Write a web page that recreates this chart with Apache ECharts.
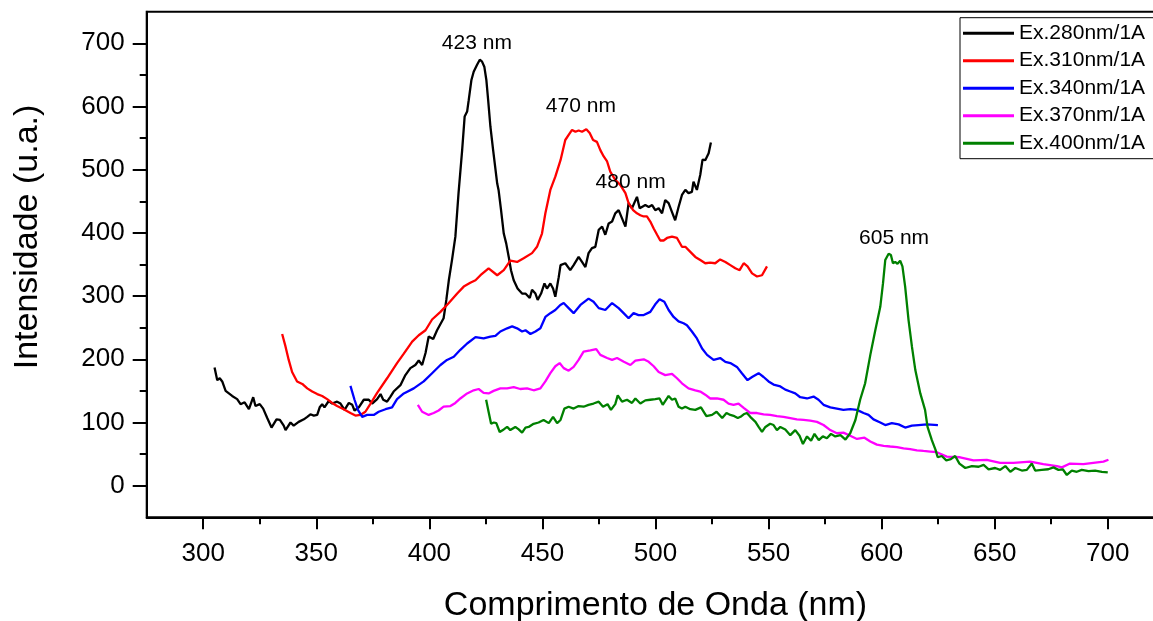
<!DOCTYPE html>
<html>
<head>
<meta charset="utf-8">
<script src="https://cdn.jsdelivr.net/npm/echarts@6/dist/echarts.min.js"></script>
<style>
html,body{margin:0;padding:0;background:#fff;overflow:hidden;width:1153px;height:621px;}
#chart{width:1166px;height:621px;}
</style>
</head>
<body>
<div id="chart"></div>
<script>
// ---- data (wavelength nm, intensity a.u.) ----
const seriesNames = ['Ex.280nm/1A','Ex.310nm/1A','Ex.340nm/1A','Ex.370nm/1A','Ex.400nm/1A'];
const xMajorTicks = [300,350,400,450,500,550,600,650,700];
const xMinorTicks = [325,375,425,475,525,575,625,675];
const yMajorTicks = [0,100,200,300,400,500,600,700];
const yMinorTicks = [50,150,250,350,450,550,650];

const ex280 = [[305,187],[306.2,167],[307.3,170],[308.4,165],[309.9,150],[312.8,142],[315,137],[316.5,129],[318.3,132],[320.2,121],[322.1,140],[323.1,126],[325,129],[326.5,122],[328.3,107],[330.2,92],[332.4,105],[333.9,104],[335.6,95],[336.4,88],[338.6,100],[340,95],[342.2,101],[344.5,105],[346,109],[347.4,113],[348.9,111],[350.4,112],[351.5,124],[352.6,129],[353.6,124],[355.5,134],[357,130],[359.2,133],[360.7,130],[362.5,120],[364.4,131],[365.9,128],[366.9,119],[368.8,124],[371,136],[373.2,136],[374.7,130],[376.9,137],[378.4,145],[379.6,136],[381.3,133],[382.8,141],[384.2,149],[387.2,159],[389.4,175],[391.6,186],[393.8,191],[395.3,198],[396.8,191],[398.3,210],[399.7,236],[401.7,232],[403.4,246],[406.3,265],[407.5,294],[408.6,325],[410,357],[411.5,394],[412.9,463],[414.5,531],[415.6,584],[416.7,592],[417.4,610],[418.6,642],[419.6,655],[421.1,666],[422.3,674],[423.3,671],[424.3,663],[425.2,642],[426,610],[427,568],[428.2,531],[430,478],[430.6,468],[431.7,436],[432.9,399],[434,383],[435.1,362],[436.1,341],[437.3,325],[439,312],[441,304],[442.5,304],[444.4,297],[445.4,310],[446.9,304],[447.9,294],[449.4,304],[450.9,320],[452,312],[453.5,320],[454.7,312],[455.7,299],[457.2,330],[458,349],[460.1,352],[462.3,341],[463.8,349],[466,362],[467.5,354],[469,346],[470.4,368],[471.9,376],[473.4,378],[474.9,405],[476.4,410],[477.8,397],[479.3,415],[480.8,418],[482.2,431],[483.7,436],[485.2,423],[486.7,410],[488.1,447],[489.6,439],[491.8,457],[493,439],[494,441],[495.5,444],[497,441],[498.5,444],[499.9,436],[501.4,439],[502.9,431],[504.3,452],[505.8,447],[507.3,433],[508.7,420],[510.2,441],[511.7,460],[513.2,468],[514.6,463],[516.1,465],[516.8,481],[518.3,468],[519.8,492],[520.8,516],[522,515],[523.5,526],[524.5,543]];

const ex310 = [[334.9,240],[336.4,220],[337.8,199],[339.3,180],[341.5,165],[343.8,161],[346,154],[348.2,149],[350.4,145],[352.6,142],[354.8,137],[357,131],[359.2,126],[362.1,121],[365.1,115],[367.3,111],[369.5,112],[371.7,117],[374,130],[376.9,147],[381.3,170],[385.7,194],[388.7,209],[392.4,228],[395.3,238],[398.3,246],[401.2,263],[404.9,275],[408.6,289],[412.3,304],[415.2,315],[418.1,321],[420.4,325],[422.6,333],[426.2,344],[430,333],[432.9,341],[435.8,356],[438.8,354],[441.7,360],[445.4,368],[447.6,378],[449.8,399],[451.3,431],[453.5,468],[455.7,489],[458,515],[460.1,547],[461.6,555],[463.1,563],[464.6,560],[466,562],[467.5,560],[469.4,564],[470.9,558],[472.4,547],[474.1,544],[475.6,531],[477.1,521],[478.6,513],[480,497],[482.2,484],[484.4,476],[486.7,463],[488.1,447],[490.1,436],[491.8,431],[493.3,428],[494.8,426],[496.2,426],[497.7,418],[499.2,407],[500.7,397],[502.1,388],[503.6,388],[505.1,392],[507.3,394],[509.5,392],[511.7,378],[513.2,378],[515.4,370],[517.6,362],[519.8,357],[522,352],[524.2,353],[526.4,352],[528.6,358],[530.9,354],[533.1,349],[535.3,344],[537.2,341],[539,352],[540.7,347],[542.7,336],[544.9,331],[547.1,333],[549.3,347]];

const ex340 = [[365.1,158],[366.9,136],[368.4,120],[370.3,109],[372.5,112],[375.4,112],[377.6,117],[380.6,121],[383.5,124],[385.7,137],[388.7,146],[393.1,154],[397.5,165],[401.2,178],[404.9,191],[407.8,199],[410.8,204],[413.7,215],[416.7,225],[420.4,235],[424,233],[427,236],[429.2,237],[431.4,244],[434.4,249],[436.6,252],[438.8,249],[441,244],[442.5,246],[444.7,240],[446.9,244],[449.1,249],[451.3,267],[453.5,273],[455.7,278],[457.9,286],[459.4,289],[461.6,281],[463.8,273],[466.8,286],[470.4,296],[472.6,291],[474.9,281],[477.8,278],[480.8,289],[483.7,281],[485.9,273],[488.1,265],[490.3,273],[492.5,270],[494.8,270],[497.7,275],[499.9,287],[501.8,295],[503.9,291],[505.8,278],[508,267],[510.2,260],[512.4,257],[513.9,254],[516.1,244],[518.3,233],[520.6,217],[522.8,207],[525.7,199],[528.6,202],[530.9,196],[533.1,194],[536,188],[538.2,178],[540.7,167],[542.7,172],[545.6,178],[547.8,172],[550,165],[552.2,160],[555.2,157],[557.4,152],[559.6,149],[561.8,146],[564,140],[567,138],[569.9,141],[572.1,136],[574.3,128],[577.3,124],[580.2,122],[583.1,120],[586.1,121],[589.1,120],[592,115],[594.2,112],[596.4,105],[599.4,100],[601.6,96],[604.5,99],[607.5,97],[610.4,92],[613.4,95],[616.3,96],[620,97],[624.9,96]];

const ex370 = [[394.9,128],[396.8,117],[399.7,112],[401.9,115],[404.1,119],[406.3,125],[409.3,126],[411.5,131],[413.7,138],[416.7,146],[419.6,151],[421.8,153],[424,147],[426.2,146],[428.4,150],[431.4,154],[434.4,154],[437.3,156],[440.2,153],[443.2,154],[446.1,151],[449.1,154],[451.3,165],[453.5,178],[455.7,189],[457.6,194],[459.4,186],[461.6,182],[463.8,188],[466,199],[468.2,212],[471.2,214],[473.8,216],[475.6,207],[478.6,202],[480.8,199],[483,202],[486,196],[488.9,191],[491.1,198],[494.8,200],[497,196],[499.2,189],[501.4,180],[504.3,175],[507.3,177],[509.5,170],[511.7,162],[514.6,154],[517.6,151],[519.8,149],[522,144],[524.2,138],[527.2,138],[530.1,136],[532.3,130],[534.5,128],[536.7,130],[539,123],[541.9,115],[544.9,115],[547.8,113],[550.7,112],[553.7,110],[556.6,109],[559.6,107],[562.5,105],[565.5,104],[568.4,103],[571.4,101],[574.3,96],[577.3,88],[580.2,83],[583.1,84],[586.1,79],[589.1,74],[592.4,76],[595,70],[597.9,65],[600.9,63],[603.8,62],[606.8,61],[609.7,59],[612.6,58],[615.6,56],[618.5,55],[621.5,54],[624.4,53],[628.8,46],[634.7,45],[640.6,40],[646.5,41],[652.4,36],[658.3,36],[665.7,38],[671.5,34],[677.5,31],[679.7,29],[683.3,35],[689.2,34],[693.6,36],[698.1,38],[700.3,41]];

const ex400 = [[425.1,136],[426.3,115],[427.3,98],[428.5,100],[429.6,99],[431.1,85],[432.9,89],[434.4,93],[435.8,88],[438,93],[439.5,89],[441,84],[442.5,92],[443.9,93],[446.1,98],[448.3,100],[450.5,104],[452.8,99],[454.7,109],[456.5,99],[458,104],[459.7,122],[461.6,125],[463.8,122],[466,126],[468.2,125],[470.4,128],[472.6,130],[474.9,133],[476.8,125],[478.8,129],[480.3,120],[482.2,129],[483.3,143],[485.2,133],[487.4,136],[489.6,131],[491.1,138],[493.3,130],[495.5,135],[497.7,136],[499.9,137],[501.8,138],[503.2,128],[505.8,142],[507.3,136],[508.7,138],[510.2,125],[511.7,122],[513.2,125],[515.4,121],[517.6,120],[520.1,124],[522.5,110],[525,112],[527,117],[528,113],[529.5,107],[531.4,115],[533.1,112],[534.9,110],[536.4,107],[537.6,109],[539,113],[540.4,115],[541.9,109],[544.2,101],[545.6,93],[547.1,85],[548.6,93],[550.7,98],[552.2,96],[553.7,88],[555.2,93],[557.4,89],[559.6,80],[561.8,88],[563.7,79],[565.2,66],[567,78],[568.8,71],[570.3,82],[572.2,72],[574,78],[575.8,75],[577.6,82],[579.5,78],[581.8,80],[584,73],[586.1,83],[588.4,104],[590.5,136],[592.7,162],[595,207],[597.2,246],[599.4,283],[600.6,320],[601.6,357],[603.1,367],[604.1,365],[605,352],[606,354],[607,351],[608.2,356],[609.2,347],[610.4,315],[611.9,262],[613.4,220],[614.9,183],[617.1,146],[619.2,120],[620.3,93],[622.2,72],[623.8,57],[624.8,45],[626.6,47],[628.6,40],[630.6,42],[632.5,47],[634.4,35],[637,28],[639.9,31],[642.9,30],[645.1,33],[647.3,26],[650.2,28],[652.4,25],[654.7,31],[656.9,22],[659.1,28],[662,24],[664.2,25],[666.4,35],[667.9,24],[670.8,25],[673.7,26],[676,29],[678.2,25],[680.1,26],[681.9,17],[684.1,24],[686.3,22],[688.5,25],[691.5,23],[694.4,24],[697.4,22],[700,21]];

// peak annotations: [series index, text, wavelength, intensity]
const peakNotes = [[0,'423 nm',421,700],[1,'470 nm',467,601],[0,'480 nm',489,481],[4,'605 nm',605.5,392]];

// ---- chart ----
const FONT = "'Liberation Sans', Arial, sans-serif";
const colors = ['#000000','#ff0000','#0000ff','#ff00ff','#008000'];
const allData = [ex280, ex310, ex340, ex370, ex400];

const chart = echarts.init(document.getElementById('chart'), null, {renderer:'canvas'});

const series = allData.map((d, i) => ({
  name: seriesNames[i],
  type: 'line',
  xAxisIndex: 0,
  yAxisIndex: 0,
  data: d,
  symbol: 'none',
  showSymbol: false,
  smooth: false,
  lineStyle: {color: colors[i], width: 2.3},
  itemStyle: {color: colors[i]},
  z: 3,
  markPoint: {
    symbol: 'circle',
    symbolSize: 0,
    silent: true,
    label: {show: true, position: 'inside', formatter: '{b}', color: '#000', fontSize: 21, fontFamily: FONT},
    data: peakNotes.filter(p => p[0] === i).map(p => ({name: p[1], coord: [p[2], p[3]]}))
  }
}));

const axisLineStyle = {color: '#000', width: 2};

chart.setOption({
  animation: false,
  backgroundColor: '#fff',
  textStyle: {fontFamily: FONT},
  grid: {left: 146.7, top: 11.7, right: 1.7, bottom: 103.7, outerBoundsMode: 'none', containLabel: false, show: true, borderColor: '#000', borderWidth: 2, backgroundColor: 'transparent'},
  legend: {
    data: seriesNames,
    orient: 'vertical',
    left: 960, top: 17.7,
    icon: 'rect',
    itemWidth: 51, itemHeight: 3, itemGap: 6.5,
    padding: [5, 20, 5, 3],
    borderColor: '#000', borderWidth: 1,
    backgroundColor: '#fff',
    textStyle: {fontSize: 21, lineHeight: 21, color: '#000', fontFamily: FONT}
  },
  xAxis: [{
    type: 'value', min: 275, max: 725, position: 'bottom',
    axisLine: {show: true, onZero: false, lineStyle: axisLineStyle},
    axisTick: {show: true, inside: false, length: 12, customValues: xMajorTicks, lineStyle: axisLineStyle},
    axisLabel: {show: true, customValues: xMajorTicks, margin: 24, fontSize: 26, color: '#000', fontFamily: FONT},
    splitLine: {show: false},
    name: 'Comprimento de Onda (nm)', nameLocation: 'middle', nameGap: 71,
    nameTextStyle: {fontSize: 34, color: '#000', fontFamily: FONT}
  }, {
    type: 'value', min: 275, max: 725, position: 'bottom', gridIndex: 0,
    axisLine: {show: false, onZero: false},
    axisTick: {show: true, inside: false, length: 7, customValues: xMinorTicks, lineStyle: axisLineStyle},
    axisLabel: {show: false},
    splitLine: {show: false}
  }],
  yAxis: [{
    type: 'value', min: -50, max: 750, position: 'left',
    axisLine: {show: true, onZero: false, lineStyle: axisLineStyle},
    axisTick: {show: true, inside: false, length: 14, customValues: yMajorTicks, lineStyle: axisLineStyle},
    axisLabel: {show: true, customValues: yMajorTicks, margin: 22, fontSize: 26, color: '#000', fontFamily: FONT},
    splitLine: {show: false}
  }, {
    type: 'value', min: -50, max: 750, position: 'left', gridIndex: 0,
    axisLine: {show: false, onZero: false},
    axisTick: {show: true, inside: false, length: 7, customValues: yMinorTicks, lineStyle: axisLineStyle},
    axisLabel: {show: false},
    splitLine: {show: false}
  }],
  graphic: [{
    type: 'text', x: 28, y: 237, rotation: Math.PI / 2,
    style: {text: 'Intensidade (u.a.)', fontSize: 34, fontFamily: FONT, fill: '#000', align: 'center', verticalAlign: 'middle'}
  }],
  series: series
});
</script>
</body>
</html>
